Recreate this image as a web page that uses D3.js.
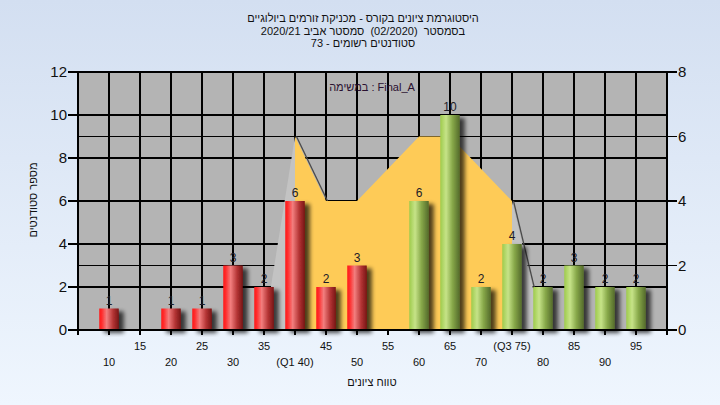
<!DOCTYPE html>
<html><head><meta charset="utf-8">
<script src="https://cdn.jsdelivr.net/npm/d3@7"></script>
<style>
html,body{margin:0;padding:0;background:#eef5fd;}
svg{display:block;font-family:"Liberation Sans",Arial,sans-serif;}
</style></head>
<body>
<svg id="c" width="720" height="405"></svg>
<script>
const titleLines = ["היסטוגרמת ציונים בקורס - מכניקת זורמים ביולוגיים", "בסמסטר  (02/2020)  סמסטר אביב 2020/21", "סטודנטים רשומים - 73"];
const legendText = "במשימה : Final_A";
const xTitle = "טווח ציונים";
const yTitle = "מספר סטודנטים";
const categories = [10,15,20,25,30,35,40,45,50,55,60,65,70,75,80,85,90,95];
const counts =     [1, 0, 1, 1, 3, 2, 6, 2, 3, 0, 6, 10,2, 4, 2, 3, 2, 2];
const tickLabels = ["10","15","20","25","30","35","(Q1 40)","45","50","55","60","65","70","(Q3 75)","80","85","90","95"];
const areaCats =   [35,40,45,50,55,60,65,70,75,80];
const areaValues = [0, 6, 4, 4, 5, 6, 6, 5, 4, 0];
const q1 = 40, q3 = 75, passMark = 55;
const leftTicks = [0,2,4,6,8,10,12];
const rightTicks = [0,2,4,6,8];

const svg = d3.select("#c");
const defs = svg.append("defs");
const bg = defs.append("linearGradient").attr("id","bg").attr("x1",0).attr("x2",0).attr("y1",0).attr("y2",1);
bg.append("stop").attr("offset",0).attr("stop-color","#d3dff1");
bg.append("stop").attr("offset",1).attr("stop-color","#eff6fe");
function grad(id, stops){
  const g = defs.append("linearGradient").attr("id",id).attr("x1",0).attr("x2",1).attr("y1",0).attr("y2",0);
  stops.forEach(s=>g.append("stop").attr("offset",s[0]).attr("stop-color",s[1]));
}
grad("red", [[0,"#ff1414"],[0.12,"#ff2a2a"],[0.38,"#f27e7e"],[0.7,"#b63636"],[1,"#781414"]]);
grad("green", [[0,"#9ecb4c"],[0.3,"#c6e388"],[0.62,"#88a94a"],[1,"#546a2a"]]);
const f = defs.append("filter").attr("id","sh").attr("x","-30%").attr("y","-30%").attr("width","180%").attr("height","160%");
f.append("feGaussianBlur").attr("in","SourceAlpha").attr("stdDeviation",2).attr("result","b");
f.append("feOffset").attr("in","b").attr("dx",5).attr("dy",3).attr("result","o");
f.append("feComponentTransfer").attr("in","o").attr("result","o2").append("feFuncA").attr("type","linear").attr("slope",0.7);
const m = f.append("feMerge"); m.append("feMergeNode").attr("in","o2"); m.append("feMergeNode").attr("in","SourceGraphic");

svg.append("rect").attr("width",720).attr("height",405).attr("fill","url(#bg)");

const L = 78, R = 667, T = 72, B = 330;
const x = d3.scaleLinear().domain([5,100]).range([L,R]);
const yL = d3.scaleLinear().domain([0,12]).range([B,T]);
const yR = d3.scaleLinear().domain([0,8]).range([B,T]);

svg.append("rect").attr("x",L).attr("y",T).attr("width",R-L).attr("height",B-T).attr("fill","#b4b4b4");

// gridlines
const grid = svg.append("g").attr("stroke","#000").attr("stroke-width",1.2).attr("shape-rendering","crispEdges");
leftTicks.forEach(v=>grid.append("line").attr("x1",L).attr("x2",R).attr("y1",yL(v)).attr("y2",yL(v)));
rightTicks.forEach(v=>grid.append("line").attr("x1",L).attr("x2",R).attr("y1",yR(v)).attr("y2",yR(v)));
categories.forEach(v=>grid.append("line").attr("x1",x(v)).attr("x2",x(v)).attr("y1",T).attr("y2",B));

// area series
const pts = areaCats.map((c,i)=>({c, v:areaValues[i]}));
const area = d3.area().x(d=>x(d.c)).y0(yR(0)).y1(d=>yR(d.v));
const line = d3.line().x(d=>x(d.c)).y(d=>yR(d.v));
const leftW = pts.filter(d=>d.c<=q1), mid = pts.filter(d=>d.c>=q1 && d.c<=q3), rightW = pts.filter(d=>d.c>=q3);
[[pts[1],pts[2]],[pts[8],pts[9]]].forEach(seg=>{
  svg.append("path").attr("d",line(seg)).attr("transform","translate(1.5,0)").attr("fill","none").attr("stroke","#4a4a4a").attr("stroke-width",1.3);
});
svg.append("path").attr("d",area(leftW)).attr("fill","#c3c3c3");
svg.append("path").attr("d",area(rightW)).attr("fill","#c3c3c3");
svg.append("path").attr("d",area(mid)).attr("fill","#fecb57");

// bars
const bw = 19.5;
const data = categories.map((c,i)=>({c, v:counts[i], label: tickLabels[i]}));
svg.append("g").selectAll("rect").data(data.filter(d=>d.v>0)).join("rect")
  .attr("x",d=>x(d.c)-bw/2).attr("y",d=>yL(d.v)).attr("width",bw).attr("height",d=>yL(0)-yL(d.v))
  .attr("fill",d=>d.c>=passMark?"url(#green)":"url(#red)").attr("filter","url(#sh)");
svg.append("g").selectAll("text").data(data.filter(d=>d.v>0)).join("text")
  .attr("x",d=>x(d.c)).attr("y",d=>yL(d.v)-4).attr("text-anchor","middle")
  .attr("font-size",12).attr("fill","#1c1c28").text(d=>d.v);

// axes
const ax = svg.append("g").attr("stroke","#000").attr("stroke-width",1.2).attr("shape-rendering","crispEdges");
ax.append("line").attr("x1",L).attr("x2",R).attr("y1",B).attr("y2",B);
ax.append("line").attr("x1",L).attr("x2",L).attr("y1",T).attr("y2",B+5);
ax.append("line").attr("x1",R).attr("x2",R).attr("y1",T).attr("y2",B+5);
leftTicks.forEach(v=>ax.append("line").attr("x1",L-10).attr("x2",L).attr("y1",yL(v)).attr("y2",yL(v)));
rightTicks.forEach(v=>ax.append("line").attr("x1",R).attr("x2",R+10).attr("y1",yR(v)).attr("y2",yR(v)));
categories.forEach(v=>ax.append("line").attr("x1",x(v)).attr("x2",x(v)).attr("y1",B).attr("y2",B+5));

svg.append("g").selectAll("text").data(leftTicks).join("text")
  .attr("x",L-11).attr("y",d=>yL(d)+5).attr("text-anchor","end").attr("font-size",15).attr("fill","#111").text(d=>d);
svg.append("g").selectAll("text").data(rightTicks).join("text")
  .attr("x",R+11).attr("y",d=>yR(d)+5).attr("text-anchor","start").attr("font-size",15).attr("fill","#111").text(d=>d);
svg.append("g").selectAll("text").data(data).join("text")
  .attr("x",d=>x(d.c)).attr("y",(d,i)=>i%2===0?366:350).attr("text-anchor","middle")
  .attr("font-size",11).attr("fill","#111").text(d=>d.label);

// titles
const tt = svg.append("text").attr("text-anchor","middle").attr("font-size",11).attr("fill","#111")
  .attr("direction","rtl").style("white-space","pre");
titleLines.forEach((s,i)=>tt.append("tspan").attr("x",363).attr("y",22+i*12.5).text(s));
svg.append("text").attr("x",372).attr("y",91).attr("text-anchor","middle").attr("font-size",11).attr("fill","#2a1030").text(legendText);
svg.append("text").attr("x",372).attr("y",386).attr("text-anchor","middle").attr("font-size",11).attr("fill","#111").text(xTitle);
svg.append("text").attr("transform","translate(37,200) rotate(-90)").attr("text-anchor","middle").attr("font-size",11).attr("fill","#111").text(yTitle);
</script>
</body></html>
